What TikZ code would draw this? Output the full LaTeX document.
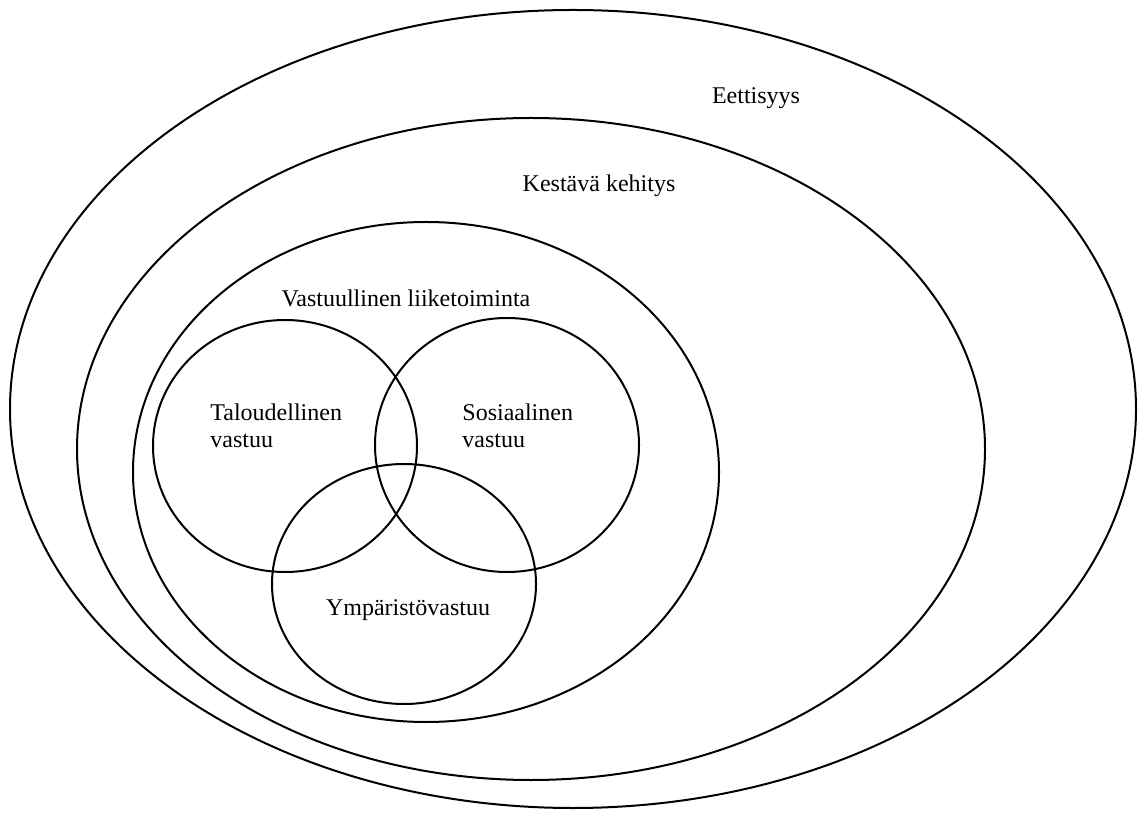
\documentclass[tikz,border=0pt]{standalone}
\usepackage{fontspec}
\setmainfont{Liberation Serif}
\usepackage{tikz}

\begin{document}
\begin{tikzpicture}[x=0.5pt,y=0.5pt,
    ring/.style={black,line width=1pt},
    lbl/.style={font=\fontsize{12}{13.5}\selectfont,inner sep=0pt},
    lbltwo/.style={lbl,align=left,anchor=west}]
        % Fix the frame
        \useasboundingbox (0,0) rectangle (1139,814);

        % Draw the nested ellipses
        \draw[ring] (573,405) ellipse (563 and 399);
        \draw[ring] (531,365) ellipse (454 and 331);
        \draw[ring] (426,342) ellipse (293 and 250);

        % Draw the three circles
        \draw[ring] (285,368) ellipse (132 and 126);
        \draw[ring] (507,369) ellipse (132 and 127);
        \draw[ring] (404,230) ellipse (132 and 120);

        % Label the areas
        \node[lbl] (eettisyys) at (756,716) {Eettisyys};
        \node[lbl] (kestava) at (599,628) {Kestävä kehitys};
        \node[lbl] (vastuullinen) at (406,516) {Vastuullinen liiketoiminta};
        \node[lbltwo] (talous) at (210,388) {Taloudellinen\\vastuu};
        \node[lbltwo] (sosiaalinen) at (462,388) {Sosiaalinen\\vastuu};
        \node[lbl] (ymparisto) at (408,204) {Ympäristövastuu};
\end{tikzpicture}
\end{document}
